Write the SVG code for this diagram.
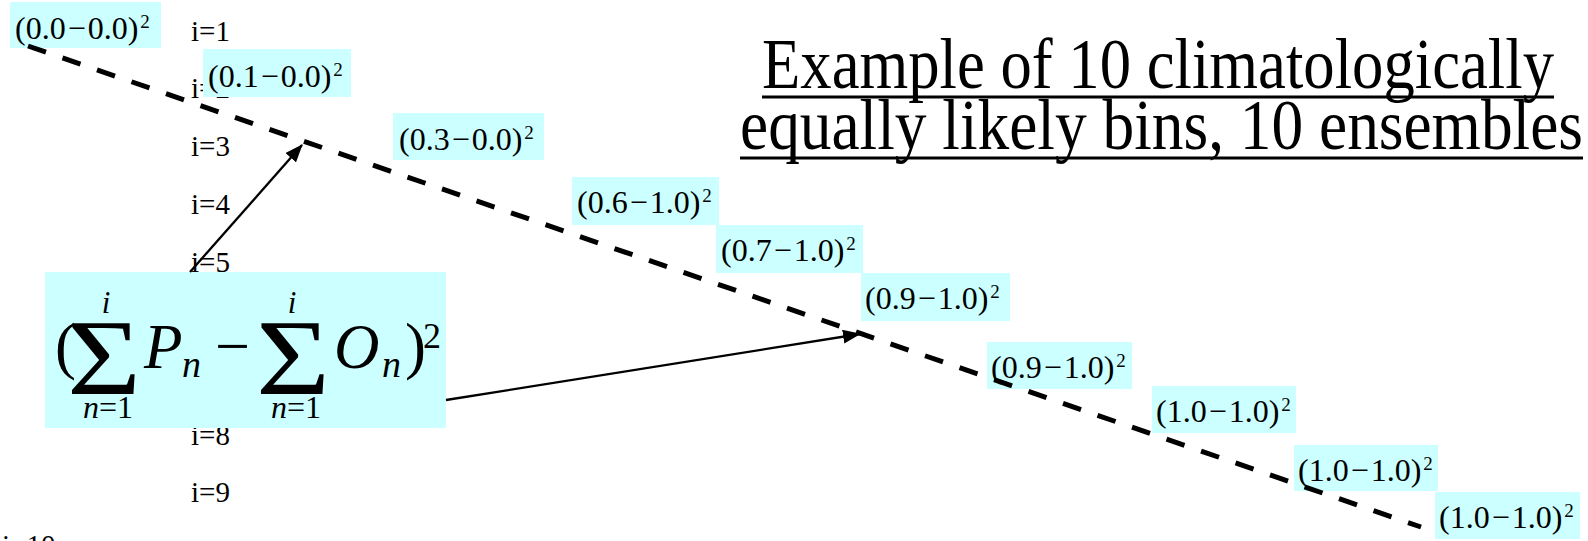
<svg xmlns="http://www.w3.org/2000/svg" width="1588" height="541" viewBox="0 0 1588 541">
<style>
.lbl{font-family:"Liberation Serif","Times New Roman",serif;font-size:29px;fill:#000}
.box{fill:#CCFFFF}
.bt{font-family:"Liberation Serif","Times New Roman",serif;font-size:32px;fill:#000}
.sup{font-size:19px}
.title{font-family:"Liberation Serif","Times New Roman",serif;font-size:63px;fill:#000}
.ul{stroke:#000;stroke-width:3}
.it{font-family:"Liberation Serif","Times New Roman",serif;font-style:italic;fill:#000}
.rm{font-family:"Liberation Serif","Times New Roman",serif;fill:#000}
.dash{stroke:#000;stroke-width:5;stroke-dasharray:19 17.5;fill:none}
.arr{stroke:#000;stroke-width:2.3;fill:none;marker-end:url(#ah)}
</style>
<defs>
<marker id="ah" markerUnits="userSpaceOnUse" markerWidth="18" markerHeight="14" refX="17" refY="7" orient="auto">
<path d="M0,0 L18,7 L0,14 Z" fill="#000"/>
</marker>
</defs>
<rect width="1588" height="541" fill="#fff"/>
<g id="ilabels">
<text class="lbl" x="191" y="40.7">i=1</text>
<text class="lbl" x="191" y="98.4">i=2</text>
<text class="lbl" x="191" y="156">i=3</text>
<text class="lbl" x="191" y="213.8">i=4</text>
<text class="lbl" x="191" y="271.5">i=5</text>
<text class="lbl" x="191" y="444.6">i=8</text>
<text class="lbl" x="191" y="502.3">i=9</text>
<text class="lbl" x="2" y="555">i=10</text>
</g>
<g id="title">
<text class="title" transform="translate(762,88) scale(1,1.13)" x="0" y="0" textLength="792" lengthAdjust="spacingAndGlyphs">Example of 10 climatologically</text>
<line class="ul" x1="762" y1="97" x2="1554" y2="97"/>
<text class="title" transform="translate(740,149) scale(1,1.13)" x="0" y="0" textLength="843" lengthAdjust="spacingAndGlyphs">equally likely bins, 10 ensembles</text>
<line class="ul" x1="740" y1="158" x2="1583" y2="158"/>
</g>
<g id="b1"><rect class="box" x="10" y="2" width="151" height="46"/><text class="bt" x="15" y="39">(0.0<tspan dx="2">−</tspan><tspan dx="2">0.0)</tspan><tspan class="sup" dx="2" dy="-11">2</tspan></text></g>
<g id="b2"><rect class="box" x="203" y="49" width="148" height="48"/><text class="bt" x="208" y="87">(0.1<tspan dx="2">−</tspan><tspan dx="2">0.0)</tspan><tspan class="sup" dx="2" dy="-11">2</tspan></text></g>
<g id="b3"><rect class="box" x="393" y="113" width="151" height="47"/><text class="bt" x="399" y="150">(0.3<tspan dx="2">−</tspan><tspan dx="2">0.0)</tspan><tspan class="sup" dx="2" dy="-11">2</tspan></text></g>
<g id="b4"><rect class="box" x="572" y="177" width="147" height="48"/><text class="bt" x="577" y="213">(0.6<tspan dx="2">−</tspan><tspan dx="2">1.0)</tspan><tspan class="sup" dx="2" dy="-11">2</tspan></text></g>
<g id="b5"><rect class="box" x="716" y="225" width="147" height="48"/><text class="bt" x="721" y="261">(0.7<tspan dx="2">−</tspan><tspan dx="2">1.0)</tspan><tspan class="sup" dx="2" dy="-11">2</tspan></text></g>
<g id="b6"><rect class="box" x="861" y="273" width="149" height="48"/><text class="bt" x="865" y="309">(0.9<tspan dx="2">−</tspan><tspan dx="2">1.0)</tspan><tspan class="sup" dx="2" dy="-11">2</tspan></text></g>
<g id="b7"><rect class="box" x="987" y="342" width="145" height="47"/><text class="bt" x="991" y="378">(0.9<tspan dx="2">−</tspan><tspan dx="2">1.0)</tspan><tspan class="sup" dx="2" dy="-11">2</tspan></text></g>
<g id="b8"><rect class="box" x="1152" y="386" width="144" height="47"/><text class="bt" x="1156" y="422">(1.0<tspan dx="2">−</tspan><tspan dx="2">1.0)</tspan><tspan class="sup" dx="2" dy="-11">2</tspan></text></g>
<g id="b9"><rect class="box" x="1294" y="445" width="144" height="46"/><text class="bt" x="1298" y="481">(1.0<tspan dx="2">−</tspan><tspan dx="2">1.0)</tspan><tspan class="sup" dx="2" dy="-11">2</tspan></text></g>
<g id="b10"><rect class="box" x="1435" y="492" width="145" height="47"/><text class="bt" x="1439" y="528">(1.0<tspan dx="2">−</tspan><tspan dx="2">1.0)</tspan><tspan class="sup" dx="2" dy="-11">2</tspan></text></g>
<g id="formula">
<rect class="box" x="45" y="272" width="401" height="156"/>
<text class="rm" x="55" y="367" font-size="63">(</text>
<text class="rm" x="67" y="394" font-size="107" textLength="74" lengthAdjust="spacingAndGlyphs">Σ</text>
<text class="it" x="106" y="313" font-size="31" text-anchor="middle">i</text>
<text class="it" x="108" y="418" font-size="32" text-anchor="middle">n<tspan class="rm" font-style="normal">=1</tspan></text>
<text class="it" x="144" y="368" font-size="63">P</text>
<text class="it" x="182" y="377" font-size="38">n</text>
<text class="rm" x="215" y="367" font-size="62">−</text>
<text class="rm" x="256" y="394" font-size="107" textLength="74" lengthAdjust="spacingAndGlyphs">Σ</text>
<text class="it" x="292" y="313" font-size="31" text-anchor="middle">i</text>
<text class="it" x="296" y="418" font-size="32" text-anchor="middle">n<tspan class="rm" font-style="normal">=1</tspan></text>
<text class="it" x="334" y="368" font-size="63">O</text>
<text class="it" x="382" y="377" font-size="38">n</text>
<text class="rm" x="405" y="367" font-size="63">)</text>
<text class="rm" x="423" y="348" font-size="36">2</text>
</g>
<g id="connectors">
<line class="dash" x1="28" y1="46" x2="1421" y2="527"/>
<line class="arr" x1="190" y1="272" x2="302" y2="145"/>
<line class="arr" x1="446" y1="400" x2="860" y2="334"/>
</g>
</svg>
